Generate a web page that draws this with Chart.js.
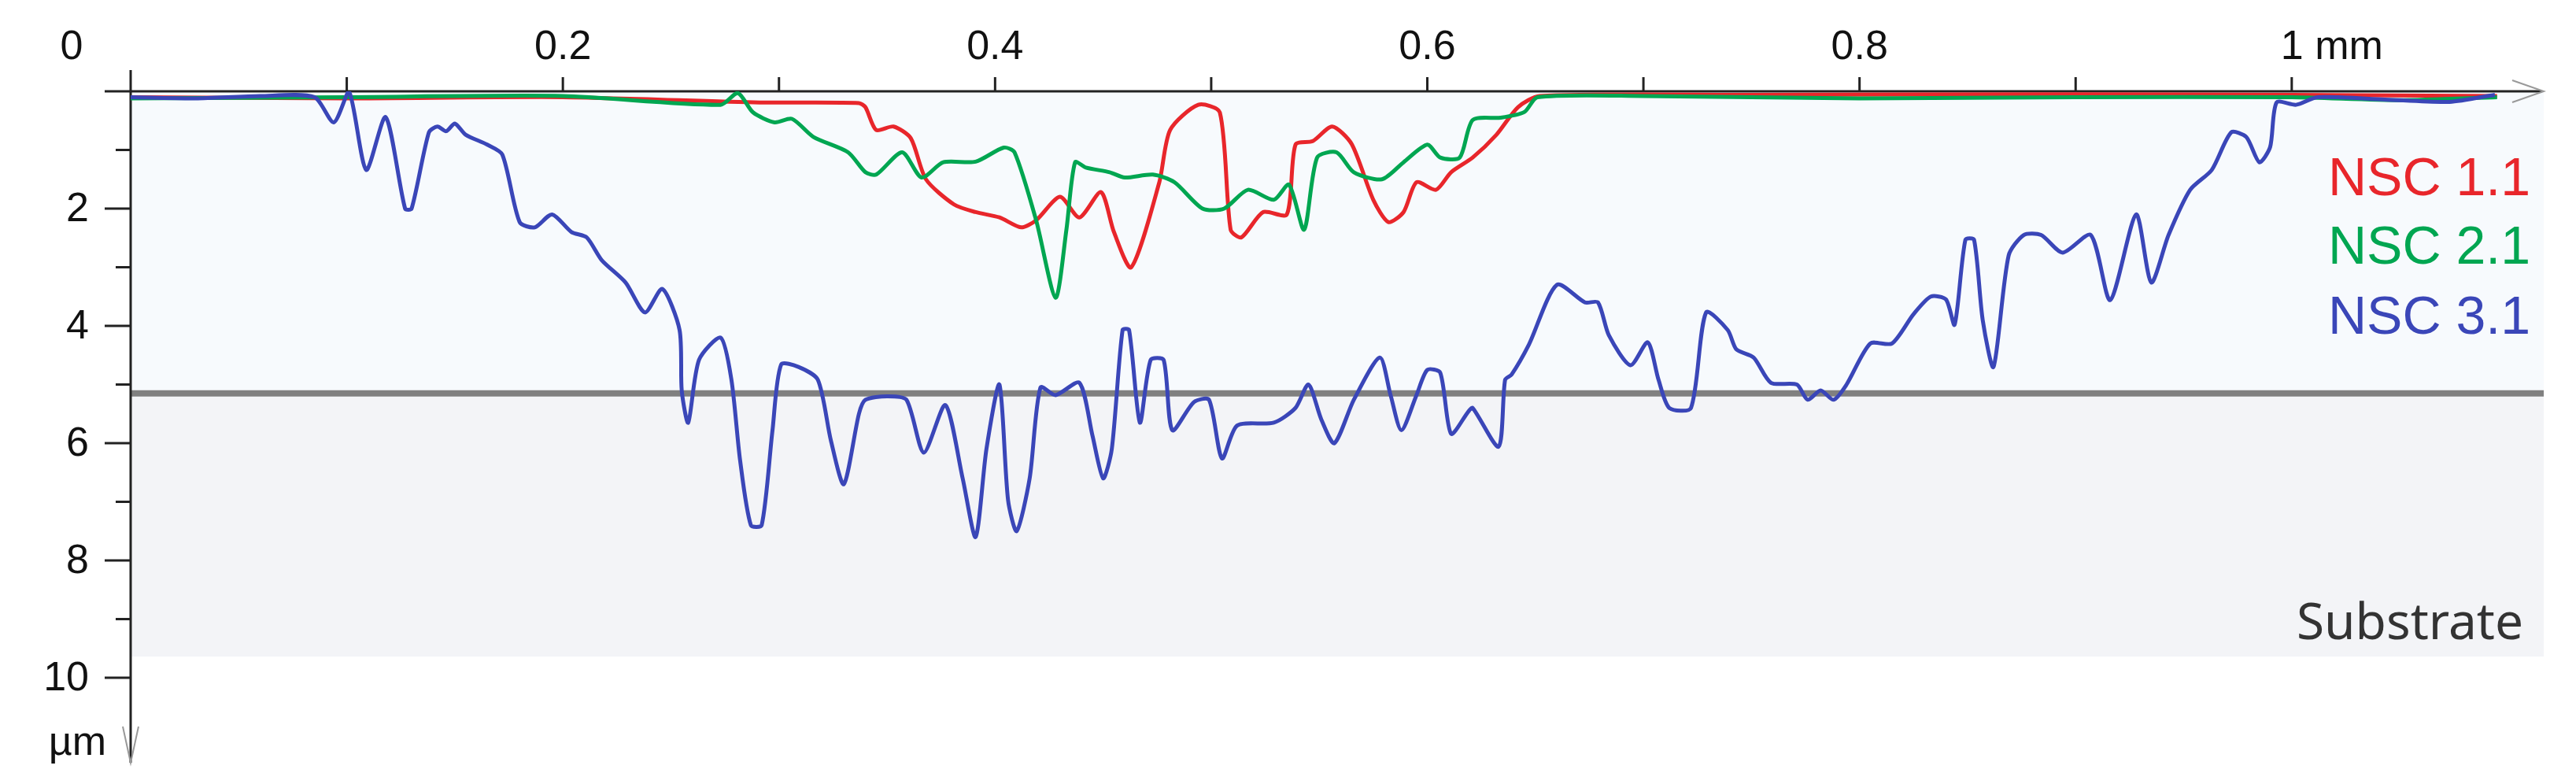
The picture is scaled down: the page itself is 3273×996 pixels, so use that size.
<!DOCTYPE html>
<html>
<head>
<meta charset="utf-8">
<script src="https://cdn.jsdelivr.net/npm/chart.js@4.4.1/dist/chart.umd.min.js"></script>
<style>
  html, body { margin: 0; padding: 0; background: #fff; }
  #wrap { width: 3273px; height: 996px; }
</style>
</head>
<body>
<div id="wrap"><canvas id="profile"></canvas></div>
<script>
// profile depth (µm) vs position (mm)
const blueX = [0, 0.03, 0.06, 0.085, 0.094, 0.101, 0.109, 0.118, 0.127, 0.13, 0.138, 0.142, 0.146, 0.15, 0.155, 0.165, 0.172, 0.18, 0.187, 0.195, 0.204, 0.211, 0.218, 0.229, 0.238, 0.246, 0.254, 0.255, 0.258, 0.263, 0.273, 0.278, 0.282, 0.287, 0.292, 0.297, 0.301, 0.309, 0.318, 0.324, 0.33, 0.337, 0.34, 0.35, 0.359, 0.367, 0.377, 0.385, 0.391, 0.396, 0.402, 0.406, 0.41, 0.416, 0.421, 0.428, 0.439, 0.445, 0.45, 0.454, 0.459, 0.462, 0.467, 0.472, 0.478, 0.482, 0.492, 0.499, 0.505, 0.512, 0.529, 0.539, 0.545, 0.551, 0.557, 0.566, 0.578, 0.583, 0.588, 0.595, 0.6, 0.606, 0.611, 0.619, 0.621, 0.633, 0.636, 0.639, 0.647, 0.66, 0.673, 0.679, 0.684, 0.694, 0.702, 0.707, 0.712, 0.722, 0.729, 0.739, 0.743, 0.751, 0.759, 0.771, 0.776, 0.782, 0.788, 0.794, 0.805, 0.815, 0.825, 0.833, 0.84, 0.844, 0.849, 0.853, 0.857, 0.862, 0.869, 0.876, 0.884, 0.894, 0.907, 0.916, 0.928, 0.935, 0.943, 0.953, 0.963, 0.972, 0.979, 0.985, 0.99, 0.993, 1.002, 1.012, 1.043, 1.073, 1.094];
const blueY = [0.1, 0.12, 0.08, 0.1, 0.53, 0.0, 1.34, 0.44, 2.0, 2.0, 0.7, 0.6, 0.68, 0.55, 0.74, 0.91, 1.08, 2.23, 2.32, 2.1, 2.4, 2.49, 2.88, 3.26, 3.77, 3.37, 4.07, 5.1, 5.65, 4.58, 4.2, 4.92, 6.29, 7.4, 7.4, 5.78, 4.66, 4.7, 4.92, 5.95, 6.7, 5.5, 5.26, 5.2, 5.26, 6.16, 5.35, 6.6, 7.6, 6.1, 5.0, 6.97, 7.5, 6.6, 5.05, 5.18, 4.97, 5.86, 6.6, 6.1, 4.07, 4.07, 5.65, 4.58, 4.58, 5.78, 5.3, 5.26, 6.26, 5.7, 5.65, 5.4, 5.0, 5.6, 6.0, 5.26, 4.54, 5.18, 5.78, 5.18, 4.75, 4.8, 5.84, 5.46, 5.4, 6.06, 4.92, 4.83, 4.32, 3.3, 3.6, 3.6, 4.16, 4.67, 4.28, 4.92, 5.4, 5.4, 3.77, 4.07, 4.4, 4.54, 4.97, 5.0, 5.26, 5.1, 5.26, 5.0, 4.3, 4.3, 3.8, 3.5, 3.55, 3.98, 2.53, 2.53, 3.9, 4.7, 2.8, 2.45, 2.45, 2.75, 2.45, 3.56, 2.1, 3.26, 2.45, 1.68, 1.34, 0.7, 0.78, 1.21, 0.95, 0.19, 0.23, 0.1, 0.14, 0.18, 0.06];

const redX = [0, 0.1, 0.2, 0.291, 0.337, 0.34, 0.345, 0.353, 0.361, 0.368, 0.381, 0.391, 0.402, 0.412, 0.419, 0.43, 0.439, 0.449, 0.455, 0.463, 0.476, 0.481, 0.494, 0.504, 0.509, 0.514, 0.524, 0.535, 0.539, 0.547, 0.556, 0.565, 0.575, 0.582, 0.589, 0.595, 0.604, 0.611, 0.621, 0.632, 0.642, 0.652, 0.75, 0.9, 1.0, 1.095];
const redY = [0.1, 0.12, 0.1, 0.19, 0.2, 0.27, 0.66, 0.6, 0.8, 1.5, 1.93, 2.06, 2.15, 2.32, 2.2, 1.8, 2.15, 1.72, 2.4, 3.0, 1.55, 0.66, 0.23, 0.36, 2.36, 2.49, 2.06, 2.1, 0.91, 0.85, 0.6, 0.9, 1.85, 2.23, 2.06, 1.55, 1.68, 1.38, 1.13, 0.74, 0.27, 0.08, 0.06, 0.05, 0.06, 0.08];

const greenX = [0, 0.1, 0.2, 0.273, 0.281, 0.288, 0.298, 0.306, 0.316, 0.332, 0.34, 0.345, 0.357, 0.366, 0.376, 0.391, 0.404, 0.409, 0.419, 0.428, 0.433, 0.437, 0.442, 0.453, 0.46, 0.473, 0.483, 0.496, 0.506, 0.517, 0.529, 0.536, 0.543, 0.549, 0.558, 0.566, 0.579, 0.589, 0.6, 0.606, 0.615, 0.621, 0.634, 0.645, 0.651, 0.7, 0.8, 0.9, 1.0, 1.05, 1.095];
const greenY = [0.12, 0.1, 0.08, 0.23, 0.03, 0.36, 0.53, 0.47, 0.78, 1.04, 1.38, 1.42, 1.04, 1.47, 1.21, 1.2, 0.96, 1.04, 2.2, 3.52, 2.36, 1.21, 1.3, 1.38, 1.47, 1.42, 1.55, 2.0, 2.0, 1.68, 1.85, 1.59, 2.36, 1.13, 1.04, 1.38, 1.5, 1.21, 0.91, 1.13, 1.13, 0.49, 0.45, 0.35, 0.1, 0.08, 0.12, 0.1, 0.1, 0.15, 0.1];

const xTickValues = [0.1, 0.2, 0.3, 0.4, 0.5, 0.6, 0.7, 0.8, 0.9, 1.0];
const xTickLabels = ['', '0.2', '', '0.4', '', '0.6', '', '0.8', '', '1 mm'];
const yTickValues = [1, 2, 3, 4, 5, 6, 7, 8, 9, 10];
const yTickLabels = ['', '2', '', '4', '', '6', '', '8', '', '10'];
const seriesNames = ['NSC 1.1', 'NSC 2.1', 'NSC 3.1'];
const seriesColors = ['#e8262b', '#00a651', '#3a46b8'];
const interfaceDepth = 5.15;
const substrateDepth = 9.64;

const pts = (xs, ys) => xs.map((x, i) => ({ x: x, y: ys[i] }));

const FONT = '"Liberation Sans", Arial, sans-serif';

const decor = {
    id: 'decor',
    beforeDatasetsDraw(chart) {
        const ctx = chart.ctx, xs = chart.scales.x, ys = chart.scales.y;
        const l = xs.getPixelForValue(0), r = xs.right;
        const y0 = ys.getPixelForValue(0), yi = ys.getPixelForValue(interfaceDepth), yb = ys.getPixelForValue(substrateDepth);
        ctx.save();
        ctx.fillStyle = '#f7fafd';
        ctx.fillRect(l, y0, r - l, yi - y0);
        ctx.fillStyle = '#f3f4f7';
        ctx.fillRect(l, yi, r - l, yb - yi);
        ctx.strokeStyle = '#808080';
        ctx.lineWidth = 8;
        ctx.beginPath(); ctx.moveTo(l, yi); ctx.lineTo(r, yi); ctx.stroke();

        // axes
        ctx.strokeStyle = '#222';
        ctx.lineWidth = 3;
        ctx.beginPath();
        ctx.moveTo(l - 33, y0); ctx.lineTo(r - 2, y0);
        ctx.moveTo(l, y0 - 27); ctx.lineTo(l, ys.bottom + 108);
        xTickValues.forEach(v => {
            const px = xs.getPixelForValue(v);
            ctx.moveTo(px, y0); ctx.lineTo(px, y0 - 18);
        });
        yTickValues.forEach(v => {
            const py = ys.getPixelForValue(v);
            ctx.moveTo(l, py); ctx.lineTo(l - (v % 2 === 0 ? 33 : 19), py);
        });
        ctx.stroke();
        // arrow heads
        ctx.strokeStyle = '#999';
        ctx.lineWidth = 2;
        ctx.beginPath();
        ctx.moveTo(r - 40, y0 - 14); ctx.lineTo(r, y0); ctx.lineTo(r - 40, y0 + 14);
        const ya = ys.bottom + 108;
        ctx.moveTo(l - 10, ya - 46); ctx.lineTo(l, ya); ctx.lineTo(l + 10, ya - 46);
        ctx.stroke();

        // tick labels
        ctx.fillStyle = '#111';
        ctx.font = '52px ' + FONT;
        ctx.textBaseline = 'alphabetic';
        xTickValues.forEach((v, i) => {
            if (!xTickLabels[i]) return;
            const px = xs.getPixelForValue(v);
            if (xTickLabels[i] === '1 mm') { ctx.textAlign = 'left'; ctx.fillText(xTickLabels[i], px - 14, 75); }
            else { ctx.textAlign = 'center'; ctx.fillText(xTickLabels[i], px, 75); }
        });
        ctx.textAlign = 'center';
        ctx.fillText('0', 91, 75);
        ctx.textAlign = 'right';
        ctx.textBaseline = 'middle';
        yTickValues.forEach((v, i) => {
            if (yTickLabels[i]) ctx.fillText(yTickLabels[i], 113, ys.getPixelForValue(v) + 2);
        });
        ctx.fillText('µm', 135, ys.bottom + 84);

        // series labels
        ctx.font = '68px ' + FONT;
        const ly = [229, 316, 405];
        seriesNames.forEach((n, i) => {
            ctx.fillStyle = seriesColors[i];
            ctx.fillText(n, 3215, ly[i]);
        });
        ctx.fillStyle = '#333';
        ctx.font = '64px "Noto Sans", "Open Sans", sans-serif';
        ctx.textBaseline = 'alphabetic';
        ctx.fillText('Substrate', 3206, 812);
        ctx.restore();
    }
};

new Chart(document.getElementById('profile'), {
    type: 'line',
    data: {
        datasets: [
            { label: seriesNames[2], data: pts(blueX, blueY), borderColor: seriesColors[2] },
            { label: seriesNames[1], data: pts(greenX, greenY), borderColor: seriesColors[1] },
            { label: seriesNames[0], data: pts(redX, redY), borderColor: seriesColors[0] }
        ].map(d => Object.assign(d, { borderWidth: 5, pointRadius: 0, fill: false, tension: 0.25 }))
    },
    options: {
        responsive: true,
        maintainAspectRatio: false,
        animation: false,
        devicePixelRatio: 1,
        layout: { padding: { left: 166, top: 116, right: 41, bottom: 135 } },
        plugins: { legend: { display: false }, tooltip: { enabled: false } },
        scales: {
            x: { type: 'linear', min: 0, max: 1.1166, display: false },
            y: { type: 'linear', min: 0, max: 10, reverse: true, display: false }
        }
    },
    plugins: [decor]
});
</script>
</body>
</html>
